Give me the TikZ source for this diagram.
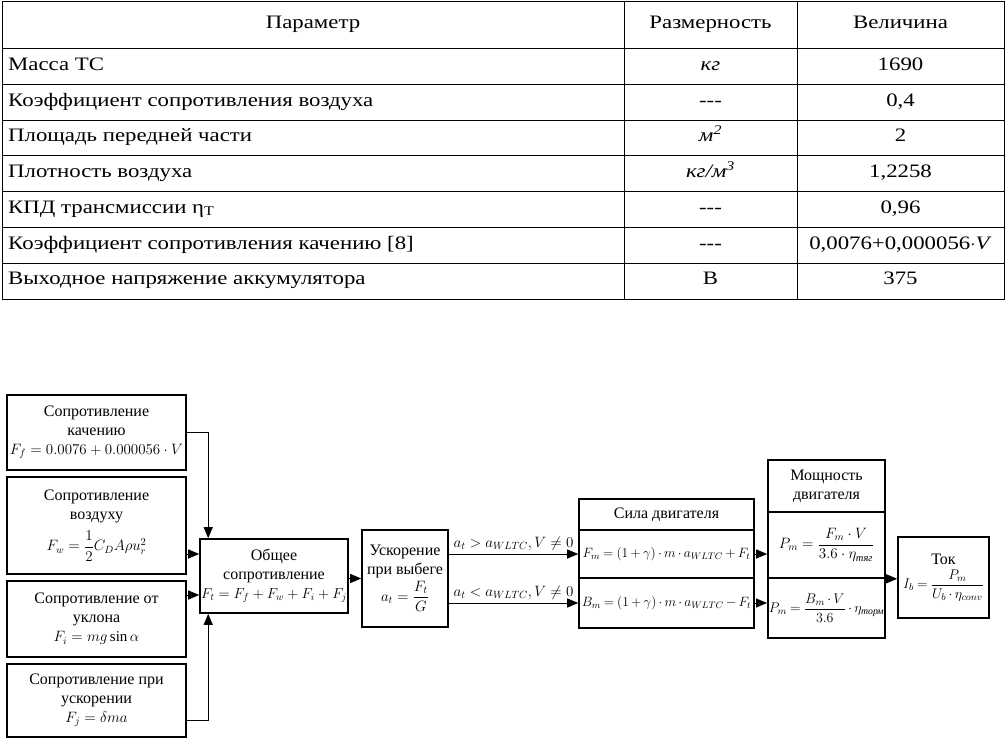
\RequirePackage{fix-cm}
\documentclass[tikz,border=0pt]{standalone}
\usepackage{amsmath}
\usepackage{fontspec}
\setmainfont{Liberation Serif}
\newfontfamily\tabfam{Liberation Serif}[FakeStretch=1.2]
\usetikzlibrary{arrows.meta, positioning}

\newcommand{\tfont}{\tabfam\fontsize{19}{22}\selectfont}
\newcommand{\dfont}{\fontsize{16}{19}\selectfont}
\newcommand{\mA}{\fontsize{15}{18}\selectfont}
\newcommand{\mB}{\fontsize{13.5}{16}\selectfont\medmuskip=3mu\thickmuskip=4mu}
\newcommand{\mC}{\fontsize{14}{17}\selectfont\medmuskip=3mu\thickmuskip=4mu}
\newcommand{\cyr}[1]{\text{\itshape #1}}

\begin{document}
\begin{tikzpicture}[
        x=1pt, y=-1pt,
        >={Triangle[length=11pt, width=9pt]},
        cellL/.style={anchor=west, font=\tfont, inner sep=0pt, text height=1.45ex, text depth=0pt},
        cellC/.style={font=\tfont, inner sep=0pt, text height=1.45ex, text depth=0pt},
        blk/.style={draw, line width=1.6pt, align=center, inner sep=1pt, font=\dfont},
        srcbox/.style={blk, minimum width=179pt},
        fbox/.style={blk, minimum width=175pt},
        pbox/.style={blk, minimum width=117pt},
        arr/.style={->, line width=0.9pt},
        cond/.style={font=\mA, inner sep=3pt}
    ]
    \useasboundingbox (0,0) rectangle (1006,743);
    % table of parameters
    \draw[line width=1pt] (2,2) rectangle (1004,299);
    \foreach \yy in {48.7, 84.4, 120.2, 155.6, 191.4, 227.2, 263.2}
        \draw[line width=1pt] (2,\yy) -- (1004,\yy);
    \draw[line width=1pt] (624,2) -- (624,299);
    \draw[line width=1pt] (797,2) -- (797,299);
    \node[cellC] (hpar) at (313,25) {Параметр};
    \node[cellC] (hdim) at (710.5,25) {Размерность};
    \node[cellC] (hval) at (900.5,25) {Величина};
    \node[cellL] (par1) at (8,67) {Масса ТС};
    \node[cellC] (dim1) at (710.5,67) {\itshape кг};
    \node[cellC] (val1) at (900.5,67) {1690};
    \node[cellL] (par2) at (8,102.8) {Коэффициент сопротивления воздуха};
    \node[cellC] (dim2) at (710.5,102.8) {-{}-{}-};
    \node[cellC] (val2) at (900.5,102.8) {0,4};
    \node[cellL] (par3) at (8,138.5) {Площадь передней части};
    \node[cellC] (dim3) at (710.5,138.5) {\itshape м\textsuperscript{2}};
    \node[cellC] (val3) at (900.5,138.5) {2};
    \node[cellL] (par4) at (8,174) {Плотность воздуха};
    \node[cellC] (dim4) at (710.5,174) {\itshape кг/м\textsuperscript{3}};
    \node[cellC] (val4) at (900.5,174) {1,2258};
    \node[cellL] (par5) at (8,209.8) {КПД трансмиссии η\textsubscript{Т}};
    \node[cellC] (dim5) at (710.5,209.8) {-{}-{}-};
    \node[cellC] (val5) at (900.5,209.8) {0,96};
    \node[cellL] (par6) at (8,245.7) {Коэффициент сопротивления качению [8]};
    \node[cellC] (dim6) at (710.5,245.7) {-{}-{}-};
    \node[cellC] (val6) at (900.5,245.7) {0,0076+0,000056$\cdot$\textit{V}};
    \node[cellL] (par7) at (8,281.5) {Выходное напряжение аккумулятора};
    \node[cellC] (dim7) at (710.5,281.5) {В};
    \node[cellC] (val7) at (900.5,281.5) {375};
    % resistance blocks
    \node[srcbox, minimum height=75pt] (roll) at (96.5,432.5) {Сопротивление\\качению\\{\mA$F_f = 0.0076 + 0.000056\cdot V$}};
    \node[srcbox, minimum height=97pt] (air) at (96.5,525.5) {Сопротивление\\воздуху\\[7pt]{\mA$F_w = \dfrac{1}{2}C_D A\rho u_r^2$}};
    \node[srcbox, minimum height=76pt] (slope) at (96.5,619) {Сопротивление от\\уклона\\{\mA$F_i = mg\sin\alpha$}};
    \node[srcbox, minimum height=73pt] (accres) at (96.5,700.5) {Сопротивление при\\ускорении\\{\mA$F_j = \delta ma$}};
    \node[blk, minimum width=148pt, minimum height=74pt] (total) at (274,576) {Общее\\сопротивление\\{\fontsize{14.5}{17}\selectfont$F_t = F_f + F_w + F_i + F_j$}};
    \node[blk, minimum width=86pt, minimum height=97pt] (coast) at (405,578.5) {Ускорение\\при выбеге\\[2pt]{\mA$a_t = \dfrac{F_t}{G}$}};
    % motor force
    \node[fbox, minimum height=31pt] (ftitle) at (666.5,514.5) {Сила двигателя};
    \node[fbox, minimum height=48pt, font=\mB] (fm) at (666.5,554) {$F_m = (1+\gamma)\cdot m\cdot a_{WLTC} + F_t$};
    \node[fbox, minimum height=50pt, font=\mB] (bm) at (666.5,603) {$B_m = (1+\gamma)\cdot m\cdot a_{WLTC} - F_t$};
    % motor power
    \node[pbox, minimum height=52pt] (ptitle) at (826.5,486) {Мощность\\двигателя};
    \node[pbox, minimum height=66pt, font=\mA] (p1) at (826.5,545) {$P_m = \dfrac{F_m\cdot V}{3.6\cdot\eta_{\cyr{тяг}}}$};
    \node[pbox, minimum height=60pt, font=\mC] (p2) at (826.5,608) {$P_m = \dfrac{B_m\cdot V}{3.6}\cdot\eta_{\cyr{торм}}$};
    \node[blk, minimum width=91pt, minimum height=81pt] (cur) at (943.5,577.5) {Ток\\[4pt]{\mC$I_b = \dfrac{P_m}{U_b\cdot\eta_{conv}}$}};
    % connectors
    \draw[arr] (roll.east) -| ([xshift=9pt]total.north west);
    \draw[arr] (accres.east |- 0,720) -| ([xshift=9pt]total.south west);
    \draw[arr] (air.east |- 0,554) -- (total.west |- 0,554);
    \draw[arr] (slope.east |- 0,595) -- (total.west |- 0,595);
    \draw[arr] (total.east |- coast.west) -- (coast.west);
    \draw[arr] (coast.east |- fm.west) -- (fm.west) node[cond, midway, above] {$a_t > a_{WLTC}, V \neq 0$};
    \draw[arr] (coast.east |- bm.west) -- (bm.west) node[cond, midway, above] {$a_t < a_{WLTC}, V \neq 0$};
    \draw[arr] (fm.east) -- (p1.west |- fm.east);
    \draw[arr] (bm.east) -- (p2.west |- bm.east);
    \draw[arr] (p1.south east) -- (cur.west |- p1.south east);
\end{tikzpicture}
\end{document}
